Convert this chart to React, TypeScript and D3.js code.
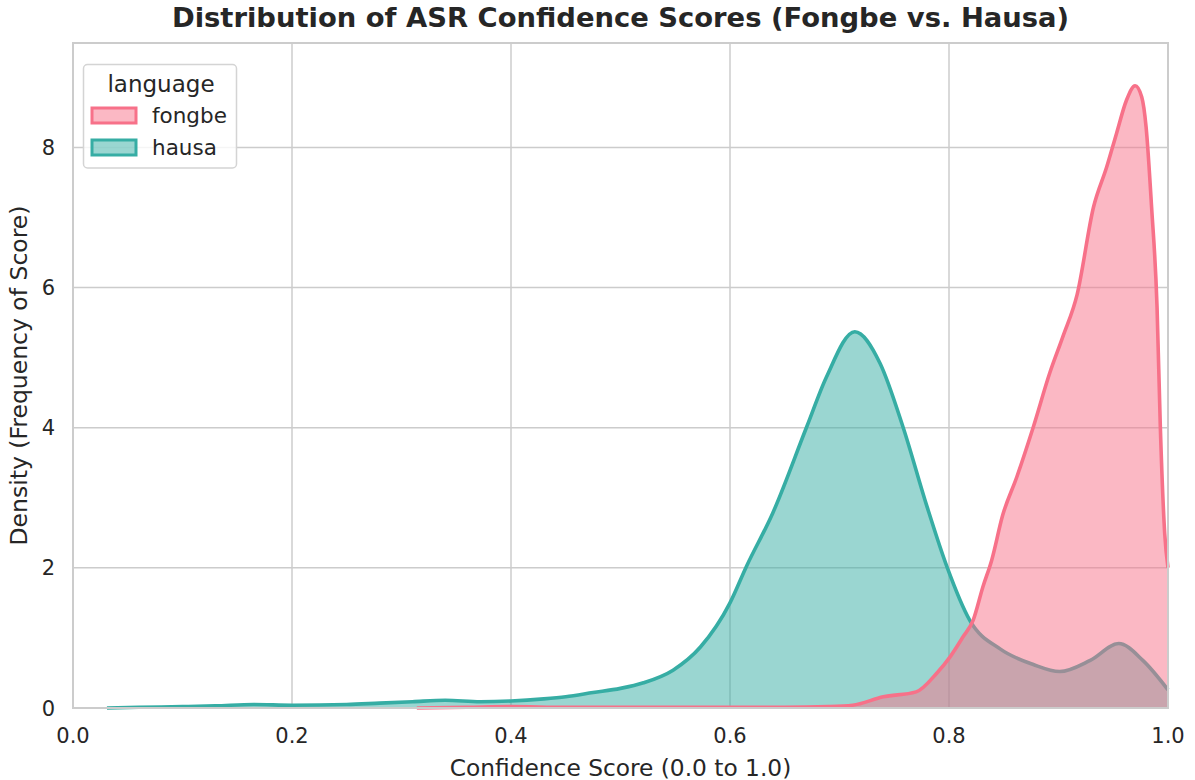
import * as d3 from 'd3';

// KDE curves (score -> density)
const hausaScores = [0.031, 0.06, 0.1, 0.13, 0.165, 0.2, 0.25, 0.28, 0.31, 0.34, 0.372, 0.4, 0.43, 0.45, 0.475, 0.5, 0.521, 0.548, 0.573, 0.6, 0.615, 0.639, 0.67, 0.688, 0.714, 0.737, 0.758, 0.78, 0.798, 0.819, 0.847, 0.877, 0.901, 0.929, 0.955, 0.977, 1.0];
const hausaDensity = [0.0, 0.01, 0.02, 0.03, 0.05, 0.04, 0.05, 0.07, 0.09, 0.11, 0.09, 0.1, 0.13, 0.16, 0.22, 0.28, 0.36, 0.54, 0.87, 1.5, 2.02, 2.78, 4.01, 4.72, 5.37, 4.92, 4.01, 2.87, 2.02, 1.25, 0.84, 0.62, 0.52, 0.68, 0.92, 0.68, 0.26];

const fongbeScores = [0.314, 0.36, 0.4, 0.45, 0.5, 0.55, 0.6, 0.65, 0.69, 0.712, 0.74, 0.77, 0.789, 0.801, 0.813, 0.822, 0.831, 0.839, 0.849, 0.862, 0.877, 0.892, 0.904, 0.917, 0.932, 0.944, 0.953, 0.962, 0.97, 0.976, 0.98, 0.985, 0.99, 0.993, 0.997, 1.0];
const fongbeDensity = [0.0, 0.01, 0.02, 0.01, 0.01, 0.01, 0.01, 0.01, 0.02, 0.04, 0.16, 0.23, 0.5, 0.73, 1.02, 1.25, 1.73, 2.11, 2.75, 3.3, 4.01, 4.78, 5.3, 5.9, 7.15, 7.72, 8.2, 8.67, 8.88, 8.72, 8.29, 7.15, 5.72, 4.01, 2.49, 2.0];

const languages = ['fongbe', 'hausa'];
const palette = ['#f77189', '#36ada4'];
const xTicks = [0, 0.2, 0.4, 0.6, 0.8, 1.0];
const yTicks = [0, 2, 4, 6, 8];

const W = 1195;
const H = 780;
const margin = { top: 43, right: 27, bottom: 72, left: 73 };
const FONT = '"DejaVu Sans", sans-serif';
const GRID = '#cccccc';
const INK = '#262626';

export default function App() {
  const x = d3.scaleLinear().domain([0, 1]).range([margin.left, W - margin.right]);
  const y = d3.scaleLinear().domain([0, 9.49]).range([H - margin.bottom, margin.top]);

  const series = [
    { name: 'hausa', color: palette[1], xs: hausaScores, ds: hausaDensity },
    { name: 'fongbe', color: palette[0], xs: fongbeScores, ds: fongbeDensity },
  ];

  const area = d3.area<[number, number]>()
    .x(d => x(d[0]))
    .y0(y(0))
    .y1(d => y(d[1]))
    .curve(d3.curveMonotoneX);
  const line = d3.line<[number, number]>()
    .x(d => x(d[0]))
    .y(d => y(d[1]))
    .curve(d3.curveMonotoneX);

  const x0 = margin.left, x1 = W - margin.right, y0 = H - margin.bottom, y1 = margin.top;

  return (
    <svg width={W} height={H} style={{ position: 'absolute', left: 0, top: 0, background: '#fff' }} fontFamily={FONT}>
      {/* grid */}
      {xTicks.map(t => (
        <line key={'gx' + t} x1={x(t)} x2={x(t)} y1={y1} y2={y0} stroke={GRID} strokeWidth={1.5} />
      ))}
      {yTicks.map(t => (
        <line key={'gy' + t} x1={x0} x2={x1} y1={y(t)} y2={y(t)} stroke={GRID} strokeWidth={1.5} />
      ))}

      {/* densities */}
      {series.map(s => {
        const pts = s.xs.map((v, i) => [v, s.ds[i]] as [number, number]);
        return (
          <g key={s.name}>
            <path d={area(pts) || ''} fill={s.color} fillOpacity={0.5} stroke="none" />
            <path d={line(pts) || ''} fill="none" stroke={s.color} strokeWidth={3.6} strokeLinejoin="round" />
          </g>
        );
      })}

      {/* spines */}
      <rect x={x0} y={y1} width={x1 - x0} height={y0 - y1} fill="none" stroke={GRID} strokeWidth={2} />

      {/* tick labels */}
      {xTicks.map(t => (
        <text key={'tx' + t} x={x(t)} y={743} textAnchor="middle" fontSize={21} fill={INK}>
          {t.toFixed(1)}
        </text>
      ))}
      {yTicks.map(t => (
        <text key={'ty' + t} x={55} y={y(t)} dy="0.36em" textAnchor="end" fontSize={21} fill={INK}>
          {t}
        </text>
      ))}

      {/* axis labels */}
      <text x={(x0 + x1) / 2} y={776} textAnchor="middle" fontSize={23.3} fill={INK}>
        Confidence Score (0.0 to 1.0)
      </text>
      <text transform={`translate(27,${(y0 + y1) / 2}) rotate(-90)`} textAnchor="middle" fontSize={23.5} fill={INK}>
        Density (Frequency of Score)
      </text>

      {/* title */}
      <text x={(x0 + x1) / 2} y={26.5} textAnchor="middle" fontSize={27.4} fontWeight="bold" fill={INK}>
        Distribution of ASR Confidence Scores (Fongbe vs. Hausa)
      </text>

      {/* legend */}
      <g>
        <rect x={83.5} y={64.5} width={153} height={103.5} rx={4} fill="#fff" fillOpacity={0.8} stroke="#d4d4d4" strokeWidth={1.5} />
        <text x={161} y={91.5} textAnchor="middle" fontSize={23} fill={INK}>language</text>
        {languages.map((lang, i) => (
          <g key={lang} transform={`translate(0,${i * 32})`}>
            <rect x={92} y={108} width={44} height={15} fill={palette[i]} fillOpacity={0.5} stroke={palette[i]} strokeWidth={3} />
            <text x={152} y={122.5} fontSize={21.5} fill={INK}>{lang}</text>
          </g>
        ))}
      </g>
    </svg>
  );
}
